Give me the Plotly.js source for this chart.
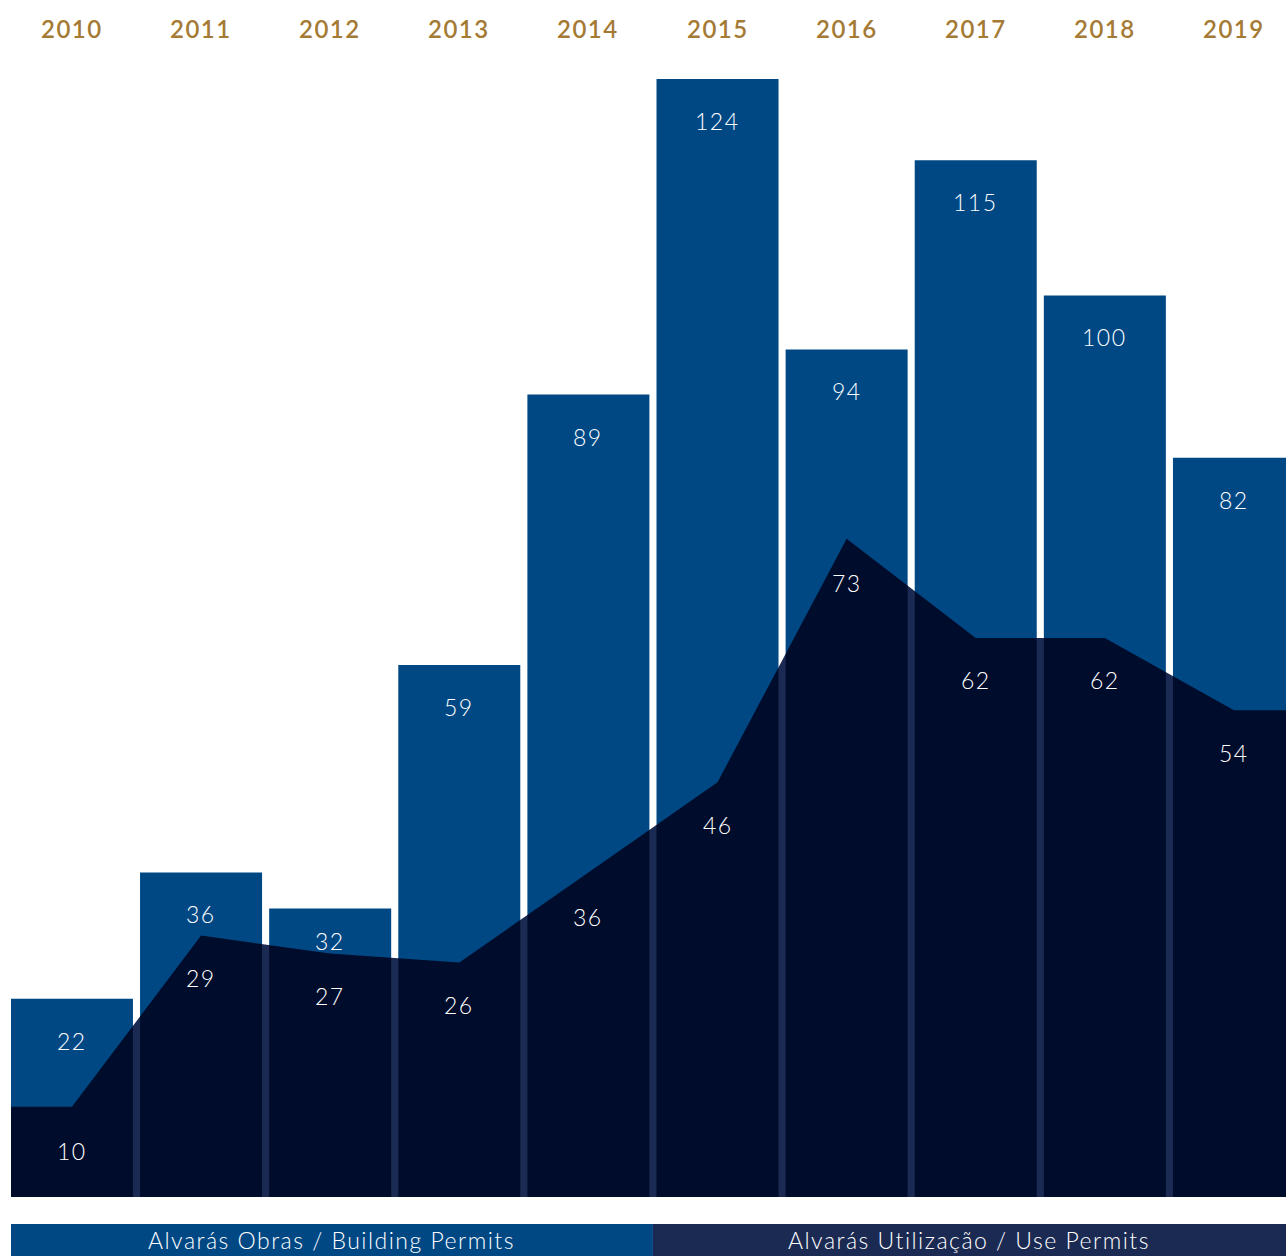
<!DOCTYPE html>
<html>
<head>
<meta charset="utf-8">
<script src="https://cdn.plot.ly/plotly-3.0.1.min.js"></script>
<style>
  html, body { margin: 0; padding: 0; background: #ffffff; }
  #chart { width: 1286px; height: 1256px; }
  .scatterlayer path.js-fill { mix-blend-mode: multiply; }
  .annotation-text { letter-spacing: 1.5px; }
</style>
</head>
<body>
<div id="chart"></div>
<script>
const years = ['2010','2011','2012','2013','2014','2015','2016','2017','2018','2019'];
const buildingPermits = [22, 36, 32, 59, 89, 124, 94, 115, 100, 82];
const usePermits = [10, 29, 27, 26, 36, 46, 73, 62, 62, 54];
const legendLabels = ['Alvarás Obras / Building Permits', 'Alvarás Utilização / Use Permits'];

const BLUE = '#004884';
const NAVY = '#1b2a52';
const GOLD = '#a47a34';
const FONT = 'Lato, "Noto Sans", sans-serif';

const idx = years.map((_, i) => i);
const n = years.length;

// label offsets below the mark top (px); 2012 bar label sits higher to clear the area
const barLabelShift = [-42, -42, -32.5, -42, -42, -42, -42, -42, -42, -42];
const useLabelShift = [-44, -42, -42, -42, -45, -43, -44, -42, -42, -43];

// area extends flat past first/last year to the plot edges (clipped)
const areaX = [-1].concat(idx, [n]);
const areaY = [usePermits[0]].concat(usePermits, [usePermits[n - 1]]);

const traces = [
  {
    type: 'bar',
    x: idx,
    y: buildingPermits,
    width: 0.945,
    marker: { color: BLUE, line: { width: 0 } },
    hoverinfo: 'skip',
    showlegend: false
  },
  {
    type: 'scatter',
    mode: 'none',
    x: areaX,
    y: areaY,
    fill: 'tozeroy',
    fillcolor: NAVY,
    hoverinfo: 'skip',
    showlegend: false
  }
];

const annotations = [];
years.forEach((yr, i) => {
  annotations.push({
    x: i, y: 1, xref: 'x', yref: 'paper', xanchor: 'center', yanchor: 'middle', yshift: 51,
    text: yr, showarrow: false,
    font: { family: FONT, size: 24, color: GOLD, weight: 600 }
  });
  annotations.push({
    x: i, y: buildingPermits[i], xref: 'x', yref: 'y', xanchor: 'center', yanchor: 'middle',
    yshift: barLabelShift[i],
    text: String(buildingPermits[i]), showarrow: false,
    font: { family: FONT, size: 23, color: '#ffffff', weight: 300 }
  });
  annotations.push({
    x: i, y: usePermits[i], xref: 'x', yref: 'y', xanchor: 'center', yanchor: 'middle',
    yshift: useLabelShift[i],
    text: String(usePermits[i]), showarrow: false,
    font: { family: FONT, size: 23, color: '#ffffff', weight: 300 }
  });
});

const legendSplit = 0.5035;
const shapes = [
  { type: 'rect', xref: 'paper', yref: 'paper', x0: 0, x1: legendSplit, y0: -0.0242, y1: -0.08,
    fillcolor: BLUE, line: { width: 0 } },
  { type: 'rect', xref: 'paper', yref: 'paper', x0: legendSplit, x1: 1, y0: -0.0242, y1: -0.08,
    fillcolor: NAVY, line: { width: 0 } }
];
annotations.push({
  x: legendSplit / 2, y: -0.0385, xref: 'paper', yref: 'paper', xanchor: 'center', yanchor: 'middle',
  text: legendLabels[0], showarrow: false,
  font: { family: FONT, size: 23, color: '#ffffff', weight: 300 }
});
annotations.push({
  x: (legendSplit + 1) / 2, y: -0.0385, xref: 'paper', yref: 'paper', xanchor: 'center', yanchor: 'middle',
  text: legendLabels[1], showarrow: false,
  font: { family: FONT, size: 23, color: '#ffffff', weight: 300 }
});

const layout = {
  width: 1286,
  height: 1256,
  margin: { l: 11, r: 0, t: 79, b: 59, pad: 0 },
  paper_bgcolor: '#ffffff',
  plot_bgcolor: '#ffffff',
  showlegend: false,
  xaxis: {
    range: [-0.472, 9.403],
    showgrid: false, zeroline: false, showline: false,
    showticklabels: false, ticks: '', fixedrange: true
  },
  yaxis: {
    range: [0, 124],
    showgrid: false, zeroline: false, showline: false,
    showticklabels: false, ticks: '', fixedrange: true
  },
  annotations: annotations,
  shapes: shapes
};

Plotly.newPlot('chart', traces, layout, { staticPlot: true, displayModeBar: false });
</script>
</body>
</html>
